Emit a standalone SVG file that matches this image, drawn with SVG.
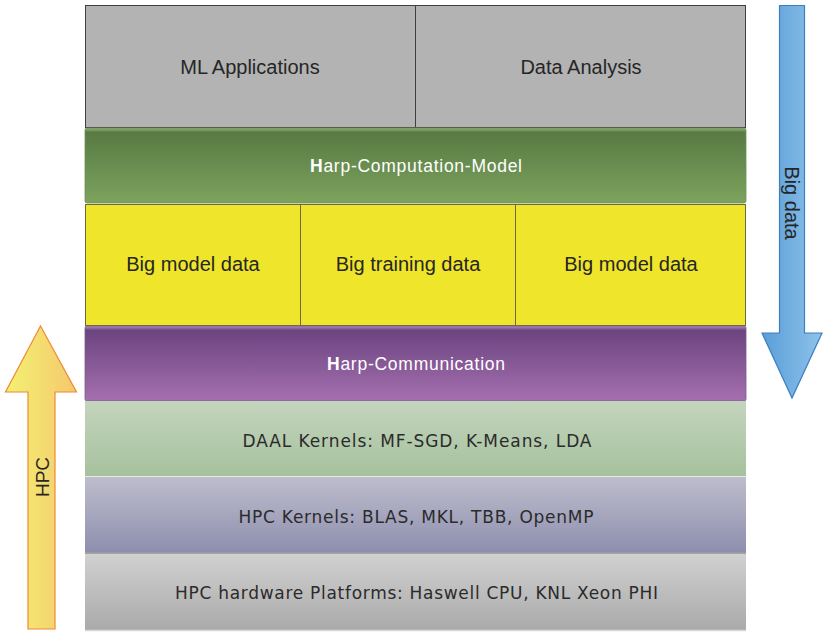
<svg xmlns="http://www.w3.org/2000/svg" width="828" height="639" viewBox="0 0 828 639">
<style>
.sans{font-family:"Liberation Sans",Arial,sans-serif;}
.ver{font-family:"DejaVu Sans",Verdana,sans-serif;font-size:17px;fill:#2b2b2b;}
.dark{fill:#262626;font-size:20px;}
.white{fill:#ffffff;font-size:17.5px;}
.gray{fill:#b3b3b3;stroke:#3f3f3f;stroke-width:1;}
.yel{fill:#efe52a;stroke:#6b6a3c;stroke-width:1;}
</style>
<defs>
<linearGradient id="gGreen" x1="0" y1="0" x2="0" y2="1">
<stop offset="0" stop-color="#93b07a"/>
<stop offset="0.06" stop-color="#587a44"/>
<stop offset="1" stop-color="#7da35d"/>
</linearGradient>
<linearGradient id="gPurple" x1="0" y1="0" x2="0" y2="1">
<stop offset="0" stop-color="#b18bc0"/>
<stop offset="0.06" stop-color="#6b4480"/>
<stop offset="1" stop-color="#a670b0"/>
</linearGradient>
<linearGradient id="gDaal" x1="0" y1="0" x2="0" y2="1">
<stop offset="0" stop-color="#c4d5bd"/>
<stop offset="1" stop-color="#a6c19e"/>
</linearGradient>
<linearGradient id="gHpc" x1="0" y1="0" x2="0" y2="1">
<stop offset="0" stop-color="#bebdcc"/>
<stop offset="1" stop-color="#8d8eae"/>
</linearGradient>
<linearGradient id="gHw" x1="0" y1="0" x2="0" y2="1">
<stop offset="0" stop-color="#d0d0d0"/>
<stop offset="1" stop-color="#aaaaaa"/>
</linearGradient>
<linearGradient id="gYArrow" x1="0" y1="0" x2="1" y2="0">
<stop offset="0" stop-color="#f3f173"/>
<stop offset="1" stop-color="#f5c86c"/>
</linearGradient>
<linearGradient id="gBArrow" x1="0" y1="0" x2="1" y2="0">
<stop offset="0" stop-color="#5a9ed8"/>
<stop offset="1" stop-color="#8ec2ea"/>
</linearGradient>
</defs>

<g id="ml-applications">
<rect class="gray" x="85.5" y="5.5" width="330" height="122"/>
<text class="sans dark" x="250" y="74" text-anchor="middle">ML Applications</text>
</g>
<g id="data-analysis">
<rect class="gray" x="415.5" y="5.5" width="330" height="122"/>
<text class="sans dark" x="581" y="74" text-anchor="middle">Data Analysis</text>
</g>

<g id="harp-computation-model">
<rect x="85" y="128" width="661" height="75" rx="2" fill="url(#gGreen)" stroke="#6e8f58" stroke-width="0.8"/>
<text class="sans white" x="416" y="172" text-anchor="middle" textLength="212" lengthAdjust="spacing"><tspan font-weight="bold">H</tspan>arp-Computation-Model</text>
</g>

<g id="big-model-data-1">
<rect class="yel" x="85.5" y="204.5" width="215" height="121"/>
<text class="sans dark" x="193" y="271" text-anchor="middle">Big model data</text>
</g>
<g id="big-training-data">
<rect class="yel" x="300.5" y="204.5" width="215" height="121"/>
<text class="sans dark" x="408" y="271" text-anchor="middle">Big training data</text>
</g>
<g id="big-model-data-2">
<rect class="yel" x="515.5" y="204.5" width="230" height="121"/>
<text class="sans dark" x="631" y="271" text-anchor="middle">Big model data</text>
</g>

<g id="harp-communication">
<rect x="85" y="326" width="661" height="75" rx="2" fill="url(#gPurple)" stroke="#7a5a8a" stroke-width="0.8"/>
<text class="sans white" x="416" y="370" text-anchor="middle" textLength="178" lengthAdjust="spacing"><tspan font-weight="bold">H</tspan>arp-Communication</text>
</g>

<g id="daal-kernels">
<rect x="85" y="401" width="661" height="75" fill="url(#gDaal)"/>
<line x1="85" y1="476.5" x2="746" y2="476.5" stroke="#e6ece4" stroke-width="1"/>
<text class="ver" x="417" y="447" text-anchor="middle" textLength="349" lengthAdjust="spacing">DAAL Kernels: MF-SGD, K-Means, LDA</text>
</g>

<g id="hpc-kernels">
<rect x="85" y="477" width="661" height="76" fill="url(#gHpc)"/>
<line x1="85" y1="553.5" x2="746" y2="553.5" stroke="#a3a3a3" stroke-width="2"/>
<text class="ver" x="416" y="523" text-anchor="middle" textLength="355" lengthAdjust="spacing">HPC Kernels: BLAS, MKL, TBB, OpenMP</text>
</g>

<g id="hpc-hardware">
<rect x="85" y="555" width="661" height="75" fill="url(#gHw)"/>
<line x1="85" y1="630.5" x2="746" y2="630.5" stroke="#d8d8d8" stroke-width="1.5"/>
<text class="ver" x="416.5" y="599" text-anchor="middle" textLength="483" lengthAdjust="spacing">HPC hardware Platforms: Haswell CPU, KNL Xeon PHI</text>
</g>

<g id="connectors">
<g id="hpc-arrow">
<path d="M28 629 L28 392 L5.5 392 L40.5 326 L76.5 392 L55 392 L55 629 Z" fill="url(#gYArrow)" stroke="#ef8a34" stroke-width="1.2" stroke-linejoin="miter"/>
<text class="sans" transform="translate(48.5,477) rotate(-90)" text-anchor="middle" font-size="19" fill="#262626">HPC</text>
</g>
<g id="bigdata-arrow">
<path d="M779.5 5.5 L804.5 5.5 L804.5 333 L822 333 L792 398 L762 333 L779.5 333 Z" fill="url(#gBArrow)" stroke="#3c7fc0" stroke-width="1.2" stroke-linejoin="miter"/>
<text class="sans" transform="translate(785,203) rotate(90)" text-anchor="middle" font-size="20" fill="#262626">Big data</text>
</g>
</g>
</svg>
